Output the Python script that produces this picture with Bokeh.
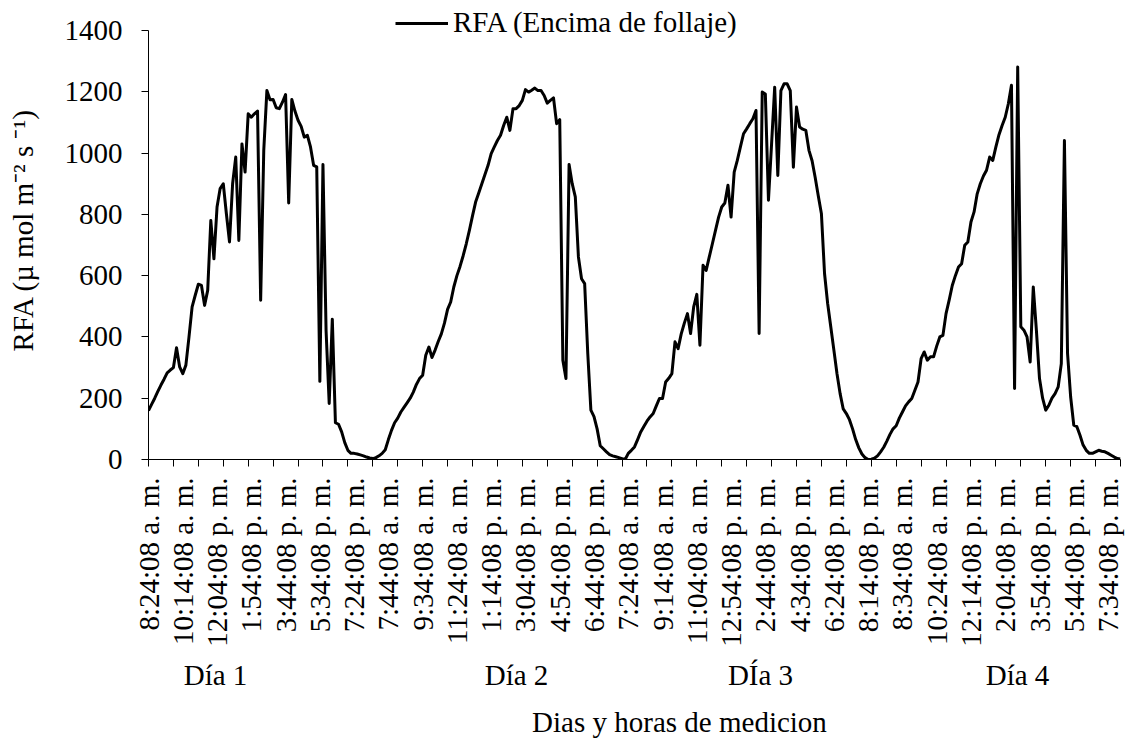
import math
from bokeh.plotting import figure
from bokeh.models import (Range1d, FixedTicker, LinearAxis, Legend, LegendItem)
from bokeh.embed import file_html
from bokeh.resources import INLINE

# ---- data ----
tick_labels = [
    "8:24:08 a. m.", "10:14:08 a. m.", "12:04:08 p. m.", "1:54:08 p. m.", "3:44:08 p. m.",
    "5:34:08 p. m.", "7:24:08 p. m.", "7:44:08 a. m.", "9:34:08 a. m.", "11:24:08 a. m.",
    "1:14:08 p. m.", "3:04:08 p. m.", "4:54:08 p. m.", "6:44:08 p. m.", "7:24:08 a. m.",
    "9:14:08 a. m.", "11:04:08 a. m.", "12:54:08 p. m.", "2:44:08 p. m.", "4:34:08 p. m.",
    "6:24:08 p. m.", "8:14:08 p. m.", "8:34:08 a. m.", "10:24:08 a. m.", "12:14:08 p. m.",
    "2:04:08 p. m.", "3:54:08 p. m.", "5:44:08 p. m.", "7:34:08 p. m.",
]
label_every = 11
tick_every = 8

rfa = [
    160, 180, 200, 222, 243, 262, 283, 292, 300, 365,
    302, 280, 308, 400, 498, 536, 572, 568, 503, 552,
    780, 655, 824, 884, 900, 802, 710, 900, 987, 715,
    1030, 938, 1128, 1117, 1128, 1137, 520, 1009, 1204, 1174,
    1175, 1148, 1145, 1166, 1191, 837, 1175, 1137, 1107, 1087,
    1052, 1058, 1020, 960, 955, 255, 963, 420, 183, 458,
    120, 115, 90, 55, 30, 20, 20, 18, 15, 12,
    8, 5, 3, 6, 12, 20, 32, 65, 95, 120,
    135, 155, 170, 185, 200, 220, 245, 264, 275, 340,
    367, 333, 357, 385, 410, 445, 490, 514, 563, 600,
    630, 665, 704, 748, 795, 840, 870, 900, 930, 960,
    998, 1020, 1041, 1058, 1090, 1117, 1074, 1145, 1145, 1155,
    1172, 1207, 1199, 1205, 1212, 1204, 1204, 1188, 1163, 1172,
    1180, 1096, 1109, 324, 264, 963, 900, 857, 661, 590,
    574, 346, 161, 140, 100, 45, 35, 25, 16, 12,
    9, 6, 3, 0, 20, 30, 41, 65, 90, 108,
    125, 139, 150, 175, 199, 199, 253, 265, 280, 384,
    362, 410, 445, 476, 411, 498, 539, 373, 634, 617,
    661, 704, 748, 791, 824, 837, 895, 791, 938, 976,
    1020, 1063, 1079, 1096, 1112, 1139, 411, 1199, 1193, 846,
    1030, 1215, 927, 1204, 1226, 1226, 1204, 954, 1150, 1085,
    1078, 1074, 1009, 975, 920, 860, 802, 607, 509, 433,
    357, 280, 215, 165, 150, 130, 100, 65, 38, 18,
    6, 0, 1, 4, 12, 25, 40, 60, 82, 100,
    110, 135, 155, 175, 188, 199, 226, 253, 329, 351,
    324, 335, 335, 370, 400, 405, 476, 520, 568, 600,
    628, 639, 699, 710, 775, 808, 867, 900, 925, 944,
    987, 976, 1020, 1060, 1090, 1117, 1161, 1221, 232, 1281,
    433, 422, 400, 318, 563, 422, 264, 200, 161, 177,
    200, 215, 237, 313, 1041, 346, 204, 112, 107, 79,
    47, 30, 20, 20, 25, 30, 27, 25, 20, 14,
    8, 3, 2,
]
day_labels = ["Día 1", "Día 2", "DÍa 3", "Día 4"]
y_ticks = [0, 200, 400, 600, 800, 1000, 1200, 1400]
y_max = 1400
series_name = "RFA (Encima de follaje)"
x_title = "Dias y horas de medicion"
y_title = "RFA (µ mol m⁻² s ⁻¹)"

FONT = "Liberation Serif"
FS = "29px"

n = len(rfa)
xs = list(range(n))

# layout (pixels)
L, R = 148, 5
FW = 972           # frame width  (x 148 .. 1120)
FH = 459           # frame height (y 0 .. 459); value 1400 sits at y=30
TOP_GAP = 30

p = figure(frame_width=FW, frame_height=FH, output_backend="svg", toolbar_location=None,
           x_range=Range1d(0, n - 1), y_range=Range1d(0, y_max * FH / (FH - TOP_GAP)),
           min_border_left=L, min_border_right=R, min_border_top=0, min_border_bottom=0)
p.outline_line_color = None
p.xgrid.visible = False
p.ygrid.visible = False
p.background_fill_color = "white"
p.border_fill_color = "white"

r = p.line(xs, rfa, line_color="black", line_width=3, line_join="round")

def px_to_x(px):
    return (px - L) / FW * (n - 1)

# main x axis
label_pos = [k * label_every for k in range(len(tick_labels))]
xa = p.xaxis[0]
xa.ticker = FixedTicker(ticks=label_pos, minor_ticks=list(range(0, n, tick_every)))
xa.major_label_overrides = {pos: lab for pos, lab in zip(label_pos, tick_labels)}
xa.major_label_orientation = math.pi / 2
xa.major_tick_out = 0
xa.major_tick_in = 0
xa.minor_tick_out = 7
xa.minor_tick_in = 0
xa.minor_tick_line_color = "black"
xa.major_label_standoff = 11

# y axis
ya = p.yaxis[0]
ya.ticker = FixedTicker(ticks=y_ticks)
ya.bounds = (0, y_max)
ya.major_tick_out = 7
ya.major_tick_in = 0
ya.minor_tick_line_color = None
ya.major_label_standoff = 19
ya.axis_label = y_title
ya.axis_label_text_font = FONT
ya.axis_label_text_font_size = FS
ya.axis_label_text_font_style = "normal"
ya.axis_label_text_color = "black"
ya.axis_label_standoff = 23

for ax in (xa, ya):
    ax.axis_line_color = "black"
    ax.axis_line_width = 1
    ax.major_tick_line_color = "black"
    ax.major_label_text_font = FONT
    ax.major_label_text_font_size = FS
    ax.major_label_text_color = "black"

def text_axis(texts, centers_px, standoff):
    pos = [px_to_x(c) for c in centers_px]
    ax = LinearAxis(ticker=FixedTicker(ticks=pos, minor_ticks=[]),
                    major_label_overrides={pp: t for pp, t in zip(pos, texts)},
                    axis_line_color=None, major_tick_line_color=None,
                    minor_tick_line_color=None, major_tick_out=0, major_tick_in=0,
                    major_label_standoff=standoff,
                    major_label_text_font=FONT, major_label_text_font_size=FS,
                    major_label_text_color="black")
    p.add_layout(ax, "below")
    return ax

text_axis(day_labels, [215, 516, 760, 1017], 9)
text_axis([x_title], [679], 12)

legend = Legend(items=[LegendItem(label=series_name, renderers=[r])],
                location=(395 - L, FH - 39), orientation="horizontal",
                glyph_width=53, label_standoff=5, padding=0, margin=0, spacing=0,
                label_text_font=FONT, label_text_font_size=FS, label_text_color="black",
                background_fill_alpha=0, border_line_alpha=0)
p.add_layout(legend)

open("out.html", "w").write(file_html(p, INLINE))
